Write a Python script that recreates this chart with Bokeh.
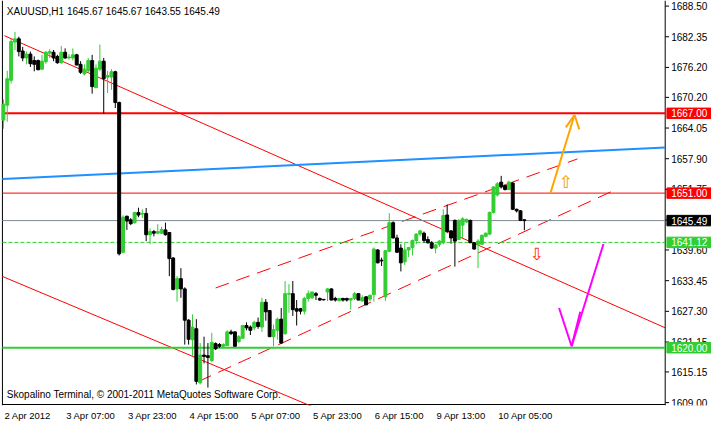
from bokeh.plotting import figure
from bokeh.models import Label, FixedTicker, ColumnDataSource
from bokeh.embed import file_html
from bokeh.resources import INLINE
from bokeh.core.properties import value

FONT = "Liberation Sans"
SYM_FONT = "DejaVu Sans"

# ---------------- data ----------------
time_labels = ["2 Apr 2012", "3 Apr 07:00", "3 Apr 23:00", "4 Apr 15:00", "5 Apr 07:00",
               "5 Apr 23:00", "6 Apr 15:00", "9 Apr 13:00", "10 Apr 05:00"]
bars_per_label = 16

open_ = [1665.65, 1668.64, 1673.62, 1681.28, 1681.93, 1679.50, 1678.10, 1678.87, 1677.58, 1677.58,
         1675.86, 1677.34, 1679.06, 1679.25, 1678.41, 1677.14, 1679.25, 1678.10, 1678.10, 1678.73,
         1676.82, 1674.90, 1675.53, 1677.58, 1672.16, 1675.86, 1677.45, 1674.27, 1674.27, 1675.34,
         1669.16, 1639.14, 1646.36, 1645.65, 1645.07, 1647.12, 1646.80, 1646.93, 1642.66, 1643.29,
         1642.97, 1642.97, 1643.62, 1643.10, 1637.99, 1631.80, 1633.85, 1631.80, 1625.53, 1621.59,
         1623.81, 1612.97, 1618.52, 1618.39, 1617.43, 1620.82, 1620.63, 1620.30, 1620.44, 1623.18,
         1623.18, 1621.26, 1621.90, 1624.46, 1624.14, 1624.00, 1625.09, 1624.14, 1629.12, 1627.45,
         1622.22, 1623.50, 1625.73, 1622.85, 1630.75, 1630.84, 1627.83, 1627.83, 1627.34, 1629.88,
         1630.02, 1630.84, 1629.88, 1629.69, 1631.17, 1631.80, 1629.88, 1629.44, 1629.88, 1629.88,
         1629.56, 1629.88, 1630.84, 1629.37, 1630.21, 1629.75, 1630.65, 1639.60, 1637.55, 1630.21,
         1639.33, 1645.07, 1642.01, 1639.98, 1637.22, 1639.60, 1640.09, 1641.51, 1642.78, 1642.97,
         1641.70, 1641.05, 1639.98, 1640.75, 1641.05, 1646.61, 1643.43, 1645.53, 1641.70, 1644.58,
         1645.21, 1645.53, 1641.05, 1640.75, 1640.75, 1642.34, 1642.78, 1647.12, 1650.63, 1653.20,
         1652.55, 1651.72, 1653.01, 1647.76, 1647.45, 1645.67]
high = [1669.79, 1675.53, 1681.93, 1683.33, 1682.37, 1680.32, 1679.37, 1679.37, 1678.41, 1677.78,
        1678.73, 1679.50, 1679.88, 1679.69, 1678.73, 1680.52, 1680.02, 1678.87, 1680.02, 1678.93,
        1677.45, 1676.82, 1678.10, 1678.73, 1676.82, 1680.78, 1678.10, 1675.53, 1675.86, 1675.53,
        1669.35, 1646.55, 1646.49, 1645.98, 1647.26, 1648.08, 1647.76, 1648.03, 1643.93, 1643.62,
        1644.77, 1644.25, 1645.07, 1643.20, 1638.18, 1634.35, 1635.96, 1632.12, 1625.73, 1626.68,
        1625.73, 1620.94, 1622.22, 1620.94, 1622.99, 1621.07, 1620.94, 1620.88, 1623.50, 1623.62,
        1623.28, 1622.55, 1624.52, 1625.09, 1624.46, 1625.42, 1626.05, 1630.02, 1629.75, 1627.58,
        1624.65, 1626.05, 1627.97, 1633.39, 1632.76, 1633.39, 1629.56, 1627.97, 1630.21, 1631.47,
        1631.28, 1631.17, 1630.08, 1629.79, 1631.93, 1631.89, 1630.21, 1629.88, 1630.02, 1630.02,
        1629.95, 1631.17, 1630.94, 1630.52, 1630.36, 1630.65, 1640.09, 1639.79, 1638.06, 1639.60,
        1646.99, 1645.34, 1642.66, 1640.75, 1641.05, 1640.23, 1641.70, 1642.97, 1643.62, 1643.29,
        1642.34, 1641.38, 1640.75, 1641.57, 1647.76, 1648.71, 1643.62, 1645.73, 1645.78, 1646.17,
        1645.88, 1645.69, 1641.19, 1641.76, 1642.72, 1643.10, 1647.32, 1652.39, 1653.20, 1654.46,
        1652.78, 1653.50, 1653.16, 1647.89, 1647.60, 1645.67]
low = [1663.93, 1665.32, 1672.99, 1679.69, 1678.41, 1677.45, 1676.82, 1676.30, 1675.42, 1675.67,
       1675.67, 1676.95, 1678.10, 1677.45, 1676.95, 1676.95, 1677.91, 1677.78, 1677.58, 1676.63,
       1674.90, 1674.58, 1675.23, 1670.94, 1672.03, 1675.42, 1666.91, 1671.07, 1671.70, 1668.06,
       1638.50, 1638.94, 1643.62, 1644.58, 1644.88, 1646.17, 1646.03, 1641.38, 1640.75, 1642.34,
       1642.78, 1642.78, 1642.47, 1634.35, 1631.51, 1629.25, 1630.02, 1620.63, 1620.63, 1618.39,
       1612.64, 1612.64, 1616.86, 1612.01, 1617.11, 1619.54, 1619.98, 1620.11, 1620.30, 1622.55,
       1620.21, 1620.94, 1621.84, 1623.50, 1622.55, 1623.50, 1623.81, 1623.18, 1625.42, 1622.12,
       1620.30, 1621.59, 1620.82, 1622.55, 1627.01, 1626.38, 1624.46, 1626.68, 1626.68, 1629.25,
       1629.75, 1629.56, 1629.40, 1629.50, 1629.37, 1629.50, 1629.25, 1629.31, 1629.25, 1629.25,
       1627.64, 1629.56, 1629.50, 1629.25, 1628.54, 1629.31, 1629.25, 1636.91, 1636.40, 1629.37,
       1639.14, 1641.95, 1639.08, 1635.30, 1636.59, 1638.18, 1638.50, 1640.75, 1642.34, 1641.05,
       1640.86, 1639.79, 1638.94, 1640.23, 1640.75, 1642.97, 1640.86, 1636.26, 1641.57, 1642.01,
       1645.02, 1640.99, 1639.65, 1635.96, 1640.61, 1642.14, 1642.62, 1646.93, 1650.32, 1651.91,
       1651.53, 1651.59, 1647.60, 1647.12, 1645.40, 1643.55]
close = [1668.83, 1673.94, 1681.42, 1681.93, 1679.37, 1678.10, 1678.87, 1676.95, 1676.82, 1675.73,
         1677.45, 1679.25, 1679.37, 1678.10, 1677.14, 1679.25, 1678.10, 1678.29, 1678.73, 1676.68,
         1675.23, 1675.86, 1677.58, 1672.35, 1676.05, 1677.45, 1673.94, 1674.58, 1675.34, 1669.16,
         1638.83, 1646.17, 1645.40, 1644.88, 1647.12, 1646.61, 1646.93, 1642.66, 1643.29, 1642.97,
         1643.29, 1643.73, 1642.66, 1637.87, 1631.67, 1633.85, 1631.80, 1625.53, 1621.70, 1624.14,
         1613.27, 1618.52, 1618.26, 1618.06, 1621.07, 1619.79, 1620.30, 1620.63, 1623.18, 1622.85,
         1620.30, 1622.22, 1624.46, 1624.00, 1623.50, 1625.09, 1624.27, 1629.12, 1627.20, 1622.22,
         1623.62, 1625.73, 1620.94, 1630.84, 1630.84, 1627.64, 1627.34, 1627.34, 1629.88, 1630.84,
         1631.17, 1630.52, 1629.56, 1629.60, 1631.80, 1629.56, 1629.56, 1629.88, 1629.56, 1629.56,
         1629.88, 1630.84, 1629.56, 1630.02, 1628.60, 1630.52, 1639.79, 1637.03, 1637.41, 1639.46,
         1645.07, 1642.01, 1639.14, 1637.03, 1639.60, 1640.09, 1641.51, 1642.78, 1643.43, 1641.51,
         1641.05, 1639.98, 1640.61, 1641.38, 1646.49, 1643.29, 1642.01, 1641.38, 1645.53, 1645.84,
         1645.73, 1641.05, 1639.79, 1641.38, 1642.53, 1642.97, 1647.12, 1652.24, 1652.87, 1652.24,
         1651.72, 1653.20, 1647.76, 1647.45, 1645.53, 1645.49]

price_ticks = [1688.50, 1682.35, 1676.20, 1670.20, 1664.05, 1657.90, 1651.75, 1645.60,
               1639.60, 1633.45, 1627.30, 1621.15, 1615.15, 1609.00]

# horizontal levels
level_target_up = 1667.00
level_resist = 1651.00
level_bid = 1645.49
level_pivot = 1641.12
level_target_down = 1620.00

# trend lines (bar index, price)
blue_x = [-0.25, 171.5]
blue_y = [1653.83, 1660.15]
diag_hi_x = [0.25, 171.5]
diag_hi_y = [1682.57, 1624.00]
diag_lo_x = [-0.25, 90.0]
diag_lo_y = [1634.29, 1604.97]
chan_up_x = [55.0, 148.75]
chan_up_y = [1631.99, 1657.85]
chan_lo_x = [50.5, 159.25]
chan_lo_y = [1613.22, 1651.91]

# hand-drawn arrows
orange_xs = [[141.75, 148.0], [145.75, 148.0, 149.25]]
orange_ys = [[1650.96, 1666.66], [1664.17, 1666.66, 1663.79]]
magenta_xs = [[155.5, 147.25], [144.0, 147.25, 149.5]]
magenta_ys = [[1640.80, 1620.30], [1627.97, 1620.30, 1627.20]]
sym_up_x, sym_up_y = 145.75, 1653.25
sym_dn_x, sym_dn_y = 138.25, 1638.89

# chart window (bars / prices) and the full frame incl. price scale area
chart_left, chart_right = -0.25, 171.5
chart_bottom, chart_top = 1608.62, 1689.27
view_x = (-0.75, 183.5)
view_y = (1608.42, 1689.62)

GREEN = "#32CD32"
W, H = 711, 423

# ---------------- figure ----------------
p = figure(width=W, height=H, output_backend="svg", toolbar_location=None,
           x_range=view_x, y_range=view_y, y_axis_location=None,
           min_border_left=0, min_border_right=0, min_border_top=0, min_border_bottom=0)
p.grid.visible = False
p.outline_line_color = None
p.background_fill_color = "white"
p.border_fill_color = "white"

px_per_bar = W / (view_x[1] - view_x[0])

n = len(open_)
xs = list(range(n))
colors = [GREEN if c >= o else "black" for o, c in zip(open_, close)]
src = ColumnDataSource(dict(x=xs, o=open_, h=high, l=low, c=close,
                            top=[max(o, c) for o, c in zip(open_, close)],
                            bottom=[min(o, c) for o, c in zip(open_, close)],
                            color=colors))

# chart border (left, right, bottom)
p.multi_line([[chart_left, chart_left], [chart_right, chart_right], [chart_left, chart_right]],
             [[view_y[0], view_y[1]], [view_y[0], view_y[1]], [chart_bottom, chart_bottom]],
             line_color="black", line_width=1)

# lines behind candles
p.line(diag_lo_x, diag_lo_y, line_color="red", line_width=1)
p.line(diag_hi_x, diag_hi_y, line_color="red", line_width=1)
p.line(chan_up_x, chan_up_y, line_color="red", line_width=1, line_dash="14 8")
p.line(chan_lo_x, chan_lo_y, line_color="red", line_width=1, line_dash="14 8")

hx = [chart_left, chart_right]
p.line(hx, [level_bid] * 2, line_color="#808890", line_width=1)
p.line(hx, [level_pivot] * 2, line_color=GREEN, line_width=1, line_dash="4 2")
p.line(hx, [level_resist] * 2, line_color="red", line_width=1)
p.line(hx, [level_target_up] * 2, line_color="red", line_width=2)
p.line(hx, [level_target_down] * 2, line_color=GREEN, line_width=2)
p.line(blue_x, blue_y, line_color="#1E90FF", line_width=2)

# candles
p.segment(x0="x", y0="l", x1="x", y1="h", color="color", line_width=1, source=src)
p.vbar(x="x", width=0.76, top="top", bottom="bottom", fill_color="color",
       line_color="color", line_width=1, source=src)

# arrows
p.multi_line(orange_xs, orange_ys, line_color="#FFA500", line_width=2)
p.multi_line(magenta_xs, magenta_ys, line_color="#FF00FF", line_width=2)
p.text([sym_up_x], [sym_up_y], text=["\u21e7"], text_color="#E8A000", text_font=value(SYM_FONT),
       text_font_size="17px", text_align="center", text_baseline="middle")
p.text([sym_dn_x], [sym_dn_y], text=["\u21e9"], text_color="#FF3000", text_font=value(SYM_FONT),
       text_font_size="17px", text_align="center", text_baseline="middle")

# texts in chart
header = f"XAUUSD,H1  {open_[-1]:.2f} {high[-1]:.2f} {low[-1]:.2f} {close[-1]:.2f}"
p.add_layout(Label(x=0.9, y=1688.55, text=header, text_font=FONT, text_font_size="10px",
                   text_color="black", text_baseline="top"))
p.add_layout(Label(x=0.9, y=1609.5, text="Skopalino Terminal, \u00a9 2001-2011 MetaQuotes Software Corp.",
                   text_font=FONT, text_font_size="10px", text_color="black", text_baseline="bottom"))

# ---- price scale on the right (drawn in the chart's own y scale) ----
tick_len = 1.0  # bars
label_gap = 1.55  # bars
p.segment(x0=[chart_right] * len(price_ticks), y0=price_ticks,
          x1=[chart_right + tick_len] * len(price_ticks), y1=price_ticks,
          line_color="black", line_width=1)
p.text(x=[chart_right + label_gap] * len(price_ticks), y=price_ticks,
       text=[f"{t:.2f}" for t in price_ticks], text_font=value(FONT), text_font_size="10px",
       text_color="black", text_align="left", text_baseline="middle")

levels = [level_target_up, level_resist, level_bid, level_pivot, level_target_down]
level_bg = ["red", "red", "black", GREEN, GREEN]
half_box = 1.05
p.quad(left=[chart_right + 0.45] * len(levels), right=[view_x[1]] * len(levels),
       bottom=[v - half_box for v in levels], top=[v + half_box for v in levels],
       fill_color=level_bg, line_color=level_bg)
p.text(x=[chart_right + label_gap] * len(levels), y=levels, text=[f"{v:.2f}" for v in levels],
       text_font=value(FONT), text_font_size="10px", text_color="white",
       text_align="left", text_baseline="middle")

# ---- time axis: labels start at their bar, as in the terminal ----
ARIAL_W = {" ": 0.278, ":": 0.278, "A": 0.667, "p": 0.556, "r": 0.333}
def text_px(s, size):
    return sum(ARIAL_W.get(ch, 0.556) for ch in s) * size

ticks = [i * bars_per_label + (1.0 + text_px(lab, 9.5) / 2) / px_per_bar
         for i, lab in enumerate(time_labels)]
ax = p.xaxis[0]
ax.ticker = FixedTicker(ticks=ticks)
ax.major_label_overrides = {t: lab for t, lab in zip(ticks, time_labels)}
ax.minor_tick_line_color = None
ax.major_tick_line_color = None
ax.major_tick_in = 0
ax.major_tick_out = 0
ax.major_label_standoff = 4
ax.axis_line_color = None
ax.major_label_text_font = FONT
ax.major_label_text_font_size = "9.5px"
ax.major_label_text_color = "black"

open("out.html", "w").write(file_html(p, INLINE))
